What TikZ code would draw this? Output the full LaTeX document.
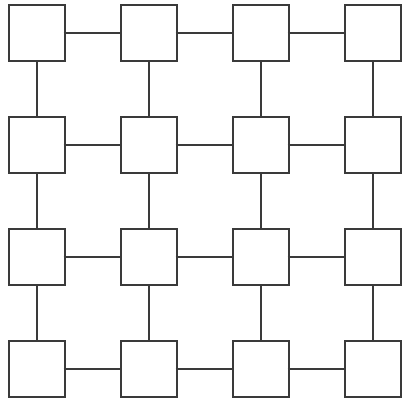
\documentclass[tikz,border=0pt]{standalone}
\usepackage{tikz}
\usetikzlibrary{positioning}
\definecolor{GridLine}{RGB}{58, 58, 58}

\begin{document}
\begin{tikzpicture}[
  x=1pt, y=-1pt,
  cell/.style={draw=GridLine, fill=white, line width=1.2pt,
    minimum width=56pt, minimum height=56pt, inner sep=0pt},
  link/.style={GridLine, line width=1.2pt}
]
\useasboundingbox (0,0) rectangle (403,402);

% Cells - 4 x 4 grid
\foreach \r in {1,...,4}
  \foreach \c in {1,...,4}
    \node[cell] (s\r\c) at ({37+112*(\c-1)}, {33+112*(\r-1)}) {};

% Horizontal links
\foreach \r in {1,...,4}
  \foreach \c/\n in {1/2, 2/3, 3/4}
    \draw[link] ([xshift=-2pt]s\r\c.east) -- (s\r\n.west);

% Vertical links
\foreach \c in {1,...,4}
  \foreach \r/\n in {1/2, 2/3, 3/4}
    \draw[link] (s\r\c.south) -- (s\n\c.north);
\end{tikzpicture}
\end{document}
